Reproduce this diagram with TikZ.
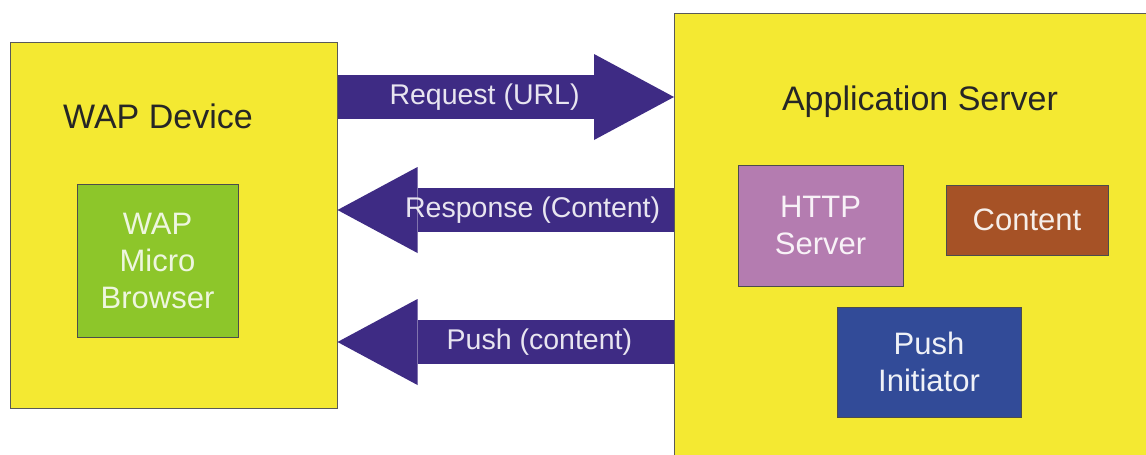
\documentclass[tikz,border=0pt]{standalone}
\usepackage{fontspec}
\setmainfont{Liberation Sans}
\usetikzlibrary{arrows.meta,positioning}
\definecolor{boxyellow}{RGB}{244,233,50}
\definecolor{flowpurple}{RGB}{62,43,132}
\definecolor{browsergreen}{RGB}{141,198,42}
\definecolor{httppink}{RGB}{180,124,176}
\definecolor{contentbrown}{RGB}{166,82,38}
\definecolor{pushblue}{RGB}{50,75,152}
\begin{document}
\begin{tikzpicture}[x=1pt, y=-1pt, every node/.style={inner sep=0pt},
  outerbox/.style={rectangle, draw=black!65, line width=1pt, fill=boxyellow},
  innerbox/.style={rectangle, draw=black!70, line width=1pt, align=center, font=\fontsize{31}{37}\selectfont},
  titletext/.style={font=\fontsize{34}{40}\selectfont, text=black!85},
  flow/.style={line width=44pt, color=flowpurple, -{Triangle[length=80pt, width=86pt, line width=0pt]}},
  flowlabel/.style={text=white!88!flowpurple, font=\fontsize{28.5}{34}\selectfont}]
\useasboundingbox (0,0) rectangle (1146,455);
\clip (0,0) rectangle (1146,455);
\fill[white] (0,0) rectangle (1146,455);
% device side
\node[outerbox, minimum width=327pt, minimum height=366pt] (dev) at (173.5,225) {};
\node[titletext] (devtitle) at (158,116) {WAP Device};
\node[innerbox, fill=browsergreen, text=white!85!browsergreen, minimum width=161pt, minimum height=153pt] (mb) at (157.5,260.5) {WAP\\Micro\\Browser};
% server side
\node[outerbox, anchor=north west, minimum width=500pt, minimum height=480pt] (srv) at (674,13) {};
\node[titletext, anchor=base] (srvtitle) at (920,110) {Application Server};
\node[innerbox, fill=httppink, text=white!90!httppink, minimum width=165pt, minimum height=121pt] (http) at (820.5,225.5) {HTTP\\Server};
\node[innerbox, fill=contentbrown, text=white!90!contentbrown, minimum width=162pt, minimum height=70pt] (cnt) at (1027,220) {Content};
\node[innerbox, fill=pushblue, text=white!92!pushblue, minimum width=184pt, minimum height=110pt] (pi) at (929,362) {Push\\Initiator};
% flows
\coordinate (reqy) at (0,97);
\coordinate (respy) at (0,210);
\coordinate (pushy) at (0,342);
\draw[flow] (dev.east |- reqy) -- node[flowlabel, pos=0.437] {Request (URL)} (srv.west |- reqy);
\draw[flow] (srv.west |- respy) -- node[flowlabel, pos=0.42] {Response (Content)} (dev.east |- respy);
\draw[flow] (srv.west |- pushy) -- node[flowlabel, pos=0.40] {Push (content)} (dev.east |- pushy);
\end{tikzpicture}
\end{document}
